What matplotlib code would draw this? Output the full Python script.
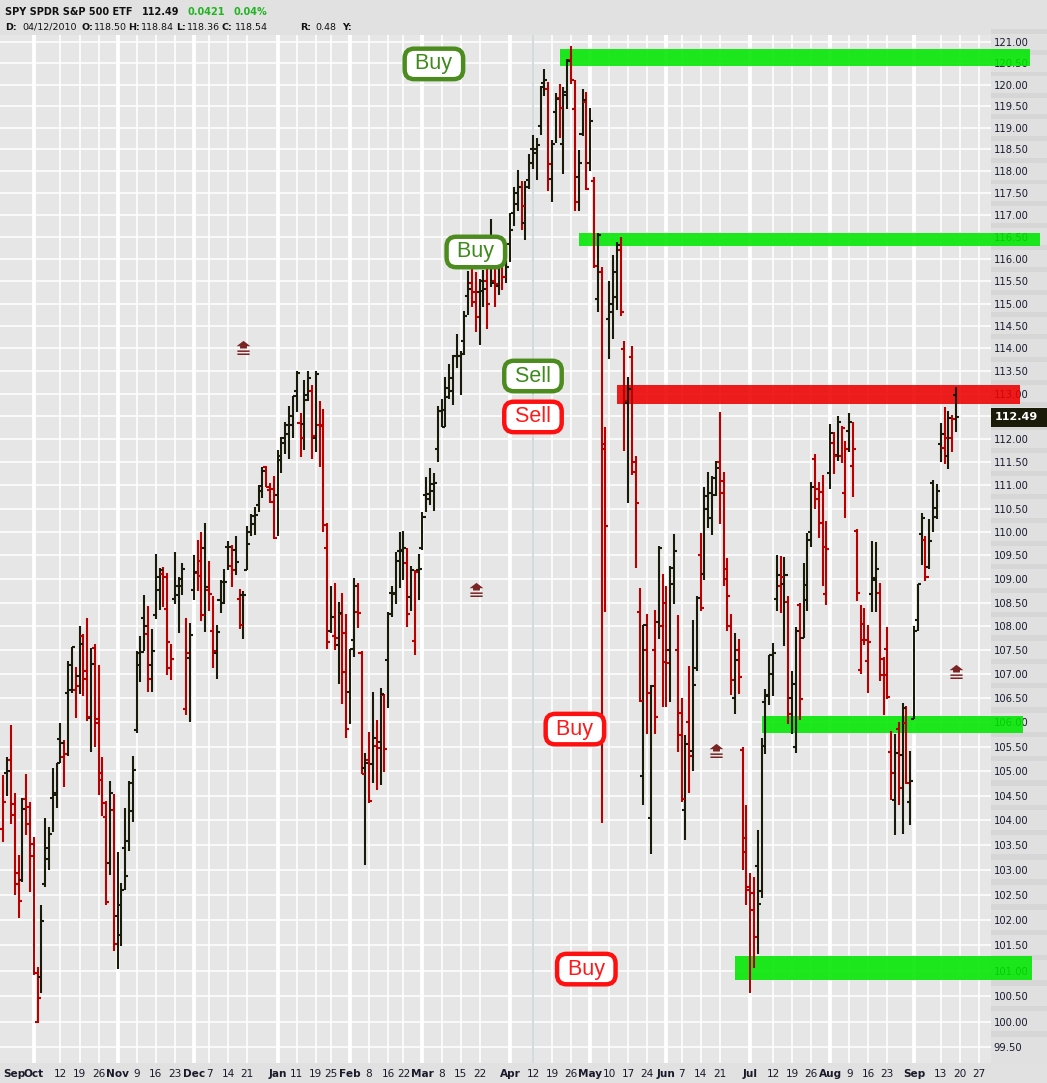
import numpy as np
import pandas as pd
import matplotlib
matplotlib.use('Agg')
import matplotlib.pyplot as plt
import matplotlib.transforms as mtransforms
from matplotlib.patches import Rectangle
from matplotlib.path import Path
from matplotlib.ticker import FixedLocator, NullLocator, NullFormatter, FuncFormatter

# trading calendar (NYSE holidays in the window)
holidays = ['2009-11-26', '2009-12-25', '2010-01-01', '2010-01-18', '2010-02-15',
            '2010-04-02', '2010-05-31', '2010-07-05', '2010-09-06']
dates = pd.bdate_range('2009-09-21', '2010-10-08', freq='C', holidays=holidays)

# daily OHLC (Sep 21 2009 .. Sep 17 2010)
opens = [103.82, 104.95, 105.23, 104.33, 102.71, 102.79, 104.42, 104.26, 103.27, 100.00,
         100.88, 102.71, 103.21, 104.45, 104.55, 105.66, 105.29, 106.60, 106.66, 106.67,
         106.95, 107.80, 106.90, 106.08, 107.55, 106.07, 104.95, 104.06, 103.13, 104.21,
         102.08, 101.70, 103.44, 103.58, 104.18, 105.85, 107.19, 108.17, 107.84, 107.19,
         108.24, 108.76, 109.10, 108.36, 107.12, 108.57, 108.85, 109.00, 106.28, 107.34,
         108.77, 109.12, 109.37, 109.66, 108.77, 107.89, 107.44, 108.55, 108.94, 109.68,
         109.27, 109.62, 108.57, 108.65, 109.19, 110.00, 110.35, 110.58, 110.98, 111.41,
         110.91, 110.93, 110.80, 111.55, 111.93, 112.31, 112.50, 113.06, 112.35, 112.33,
         112.87, 113.06, 112.04, 112.32, 112.32, 109.65, 107.89, 107.80, 107.61, 108.25,
         107.85, 106.63, 107.71, 108.30, 107.43, 105.06, 105.23, 105.14, 105.52, 105.59,
         106.56, 107.30, 108.71, 108.71, 109.59, 109.61, 109.33, 108.62, 107.69, 109.19,
         109.65, 110.80, 110.71, 110.87, 111.79, 112.63, 112.28, 113.13, 113.06, 113.83,
         113.83, 114.17, 115.18, 115.46, 115.04, 115.27, 115.51, 115.50, 116.00, 115.50,
         115.40, 115.90, 116.10, 116.33, 117.05, 117.25, 117.64, 116.81, 117.80, 118.50,
         118.42, 119.05, 120.05, 119.90, 117.83, 119.36, 119.70, 118.62, 119.76, 120.58,
         119.43, 117.87, 118.85, 119.60, 118.20, 117.78, 115.10, 115.70, 111.90, 114.66,
         114.80, 115.14, 116.20, 113.99, 112.80, 113.80, 111.50, 108.30, 104.90, 107.50,
         104.05, 107.50, 108.10, 108.00, 108.50, 107.50, 108.90, 107.50, 106.20, 104.20,
         106.00, 105.40, 107.12, 109.50, 109.10, 110.50, 110.30, 110.80, 111.50, 111.10,
         109.20, 108.00, 106.50, 107.50, 105.44, 103.35, 102.60, 102.54, 103.07, 102.57,
         106.41, 106.55, 107.00, 108.57, 108.86, 108.90, 108.51, 106.50, 105.50, 108.45,
         107.75, 108.55, 110.00, 111.57, 110.70, 110.85, 108.67, 111.27, 111.93, 111.66,
         111.64, 110.84, 112.18, 111.43, 110.03, 107.08, 107.72, 107.27, 108.69, 108.98,
         108.71, 106.99, 107.53, 105.39, 104.40, 105.86, 105.33, 105.99, 104.36, 106.07,
         108.13, 109.95, 109.83, 109.25, 111.05, 110.52, 111.89, 111.81, 111.64, 112.04,
         112.97]
highs = [104.91, 105.29, 105.94, 104.55, 103.29, 104.45, 104.93, 104.37, 103.67, 101.07,
         102.29, 104.04, 103.86, 105.06, 105.17, 105.98, 105.63, 107.28, 107.57, 107.14,
         108.00, 107.84, 108.17, 107.54, 107.62, 107.19, 105.29, 104.39, 104.79, 104.54,
         103.35, 102.74, 104.25, 104.79, 105.31, 107.49, 107.80, 108.65, 108.42, 107.95,
         109.52, 109.23, 109.25, 109.13, 107.62, 109.57, 109.04, 109.33, 108.17, 108.07,
         109.50, 109.83, 110.00, 110.19, 109.37, 108.64, 108.03, 108.97, 109.21, 109.81,
         109.72, 109.92, 108.78, 108.74, 110.13, 110.38, 110.53, 111.00, 111.39, 111.43,
         111.06, 111.20, 111.77, 112.06, 112.37, 112.73, 112.96, 113.49, 112.58, 113.30,
         113.50, 113.20, 113.49, 112.84, 112.66, 110.20, 108.84, 108.91, 108.52, 108.71,
         108.25, 107.52, 109.02, 108.91, 107.48, 105.37, 105.81, 106.63, 106.05, 106.71,
         106.58, 108.30, 108.84, 109.57, 110.01, 110.03, 109.65, 109.28, 109.18, 109.54,
         110.43, 111.18, 111.38, 111.27, 112.73, 112.89, 113.37, 113.65, 113.85, 114.31,
         113.94, 114.84, 115.73, 115.80, 115.71, 115.56, 115.75, 115.85, 116.90, 115.97,
         116.20, 116.20, 116.18, 117.04, 117.64, 118.03, 117.78, 117.78, 118.40, 118.84,
         118.77, 119.98, 120.37, 120.07, 118.73, 119.81, 120.01, 119.95, 120.60, 120.90,
         120.12, 118.49, 119.91, 119.83, 119.47, 117.86, 116.58, 115.82, 112.27, 115.50,
         116.10, 116.38, 116.50, 114.17, 113.37, 114.05, 111.63, 108.80, 108.03, 108.26,
         106.77, 108.35, 109.70, 109.10, 108.86, 109.27, 109.95, 108.23, 106.50, 105.74,
         107.16, 108.14, 108.63, 109.98, 110.97, 111.30, 111.21, 111.53, 112.59, 111.30,
         109.44, 108.25, 107.85, 107.74, 105.50, 104.30, 102.93, 102.86, 103.81, 105.68,
         106.68, 107.40, 107.65, 109.50, 109.49, 109.47, 108.63, 107.06, 107.98, 108.50,
         109.33, 109.97, 111.08, 111.68, 111.08, 111.23, 110.24, 112.33, 112.17, 112.50,
         112.30, 111.96, 112.58, 112.37, 110.07, 108.45, 108.39, 108.03, 109.80, 109.78,
         108.92, 107.36, 107.98, 105.82, 105.76, 106.01, 106.39, 106.33, 105.42, 108.01,
         108.90, 110.40, 109.91, 110.27, 111.11, 111.03, 112.36, 112.70, 112.63, 112.54,
         113.15]
lows = [103.56, 104.50, 103.93, 102.50, 102.03, 102.76, 103.70, 102.56, 100.92, 99.97,
        100.56, 102.65, 102.99, 103.76, 104.25, 105.17, 104.67, 105.31, 106.60, 106.09,
        106.58, 106.55, 106.03, 105.38, 105.50, 104.51, 104.08, 102.30, 102.89, 101.39,
        101.04, 101.49, 102.60, 103.38, 103.97, 105.77, 106.83, 107.48, 106.63, 106.63,
        108.15, 108.34, 108.40, 106.98, 106.87, 108.46, 107.86, 108.65, 106.16, 106.00,
        108.55, 108.74, 108.12, 107.88, 108.33, 107.13, 106.90, 108.28, 108.46, 109.19,
        108.82, 109.09, 107.94, 107.73, 109.19, 109.92, 109.94, 110.43, 110.72, 110.96,
        110.62, 109.85, 109.92, 111.28, 111.69, 111.57, 112.04, 112.60, 111.61, 111.76,
        112.83, 111.58, 111.72, 111.39, 110.00, 107.52, 107.85, 107.50, 106.79, 106.38,
        105.68, 105.97, 107.36, 107.96, 104.93, 103.09, 104.35, 104.76, 104.61, 104.72,
        104.99, 106.29, 108.20, 108.46, 108.80, 108.97, 107.98, 108.32, 107.40, 108.55,
        109.62, 110.43, 110.57, 110.45, 111.50, 112.28, 112.28, 112.89, 112.75, 113.57,
        112.98, 113.86, 114.74, 114.92, 114.36, 114.07, 114.92, 114.43, 115.37, 114.93,
        115.20, 115.30, 115.45, 115.94, 116.74, 117.10, 116.65, 116.44, 117.60, 118.06,
        117.80, 118.83, 119.74, 117.54, 117.30, 118.66, 118.77, 117.93, 119.43, 120.01,
        117.08, 117.10, 118.82, 117.58, 118.00, 115.80, 114.80, 103.94, 108.30, 113.77,
        114.20, 114.86, 114.73, 111.74, 110.63, 111.23, 109.24, 106.41, 104.30, 105.76,
        103.32, 105.76, 107.73, 106.31, 106.31, 106.41, 108.46, 105.39, 104.36, 103.60,
        104.55, 105.00, 107.06, 108.33, 108.97, 110.08, 109.94, 110.77, 110.17, 108.85,
        107.90, 106.56, 106.18, 106.59, 103.00, 102.30, 100.56, 101.05, 101.32, 102.44,
        105.34, 106.35, 106.55, 108.33, 108.28, 107.58, 105.97, 105.76, 105.37, 106.05,
        107.75, 108.33, 109.67, 110.50, 109.87, 108.85, 108.44, 110.93, 111.25, 111.53,
        111.48, 110.31, 111.72, 110.75, 108.53, 107.00, 107.60, 106.60, 108.29, 108.30,
        106.85, 106.16, 106.49, 104.40, 103.71, 104.30, 103.73, 104.74, 103.90, 106.07,
        107.89, 109.30, 108.96, 109.21, 110.00, 110.27, 111.51, 111.47, 111.36, 111.73,
        112.17]
closes = [104.37, 105.00, 104.11, 102.94, 102.38, 104.22, 103.93, 103.52, 100.96, 100.47,
          101.97, 103.44, 103.72, 104.51, 105.17, 105.57, 105.35, 107.19, 107.57, 106.76,
          107.63, 107.07, 106.11, 107.20, 105.98, 104.82, 104.35, 102.36, 104.55, 101.53,
          102.29, 102.60, 102.88, 104.76, 105.02, 107.43, 107.46, 108.00, 106.90, 107.49,
          109.04, 109.18, 109.05, 107.68, 107.31, 108.65, 108.85, 109.21, 107.43, 107.81,
          109.15, 109.07, 108.24, 108.82, 108.68, 107.48, 107.87, 108.48, 108.94, 109.68,
          109.18, 109.35, 108.03, 108.65, 109.74, 110.17, 110.36, 110.89, 111.32, 110.96,
          110.64, 109.88, 111.64, 112.02, 112.12, 112.32, 112.95, 113.45, 112.04, 112.98,
          113.35, 112.07, 113.43, 112.30, 110.15, 107.66, 108.20, 107.75, 108.27, 107.05,
          105.86, 107.52, 108.85, 108.27, 104.93, 105.17, 104.39, 105.67, 105.48, 106.58,
          105.46, 108.25, 108.69, 109.37, 109.60, 109.65, 108.25, 109.18, 109.15, 109.20,
          110.32, 110.81, 111.04, 111.06, 112.63, 112.65, 112.93, 113.35, 113.83, 113.84,
          113.88, 114.72, 115.32, 115.27, 114.69, 115.28, 115.32, 115.00, 115.45, 115.43,
          116.00, 115.60, 115.82, 116.65, 117.50, 117.64, 117.20, 117.64, 118.20, 118.52,
          118.60, 119.95, 120.12, 118.17, 118.62, 119.66, 119.45, 119.83, 120.57, 120.12,
          117.30, 118.19, 119.65, 117.60, 119.15, 115.85, 116.54, 111.80, 110.13, 115.00,
          115.70, 116.31, 114.82, 112.84, 113.10, 111.30, 110.63, 106.44, 108.03, 106.60,
          106.75, 106.10, 109.66, 107.26, 107.24, 109.24, 109.60, 105.74, 104.42, 105.55,
          105.30, 106.78, 108.60, 108.38, 110.78, 110.84, 111.17, 111.37, 110.84, 109.00,
          108.63, 106.88, 107.30, 106.94, 103.64, 102.66, 102.20, 101.66, 102.31, 105.52,
          106.57, 107.40, 107.44, 109.08, 109.05, 109.09, 106.18, 106.80, 107.90, 106.49,
          108.88, 109.82, 110.96, 110.93, 110.20, 109.67, 109.64, 112.15, 111.63, 112.37,
          112.24, 111.79, 112.39, 111.79, 108.71, 108.04, 107.72, 107.67, 109.01, 109.20,
          107.31, 106.98, 106.53, 104.95, 105.37, 104.66, 106.29, 104.76, 104.80, 107.89,
          108.89, 110.29, 109.05, 109.80, 110.32, 110.87, 112.11, 112.04, 112.47, 112.45,
          112.49]
prior_close = 104.60   # close before the first visible bar

# support / resistance bands: (start date, low, high, colour)
band_starts = ['2010-04-21', '2010-04-28', '2010-05-12', '2010-07-07', '2010-06-25']
band_lows = [120.45, 116.30, 112.78, 105.77, 100.82]
band_highs = [120.85, 116.60, 113.20, 106.13, 101.28]
band_ends = [269.5, 272.0, 266.9, 267.6, 270.0]   # bar index where each band stops
band_colors = ['#00e600', '#00e600', '#ee0000', '#00e600', '#00e600']

# signal boxes
sig_text = ['Buy', 'Buy', 'Sell', 'Sell', 'Buy', 'Buy']
sig_dates = ['2010-03-04', '2010-03-19', '2010-04-12', '2010-04-12', '2010-04-27', '2010-04-30']
sig_prices = [120.49, 116.16, 113.39, 112.49, 105.86, 101.03]
sig_kind = ['green', 'green', 'green', 'red', 'red', 'red']

# dividend markers
div_dates = ['2009-12-18', '2010-03-19', '2010-06-18', '2010-09-17']
div_prices = [114.00, 108.77, 105.42, 107.05]

# x-axis labels
tick_dates = ['2009-09-21', '2009-10-01', '2009-10-12', '2009-10-19', '2009-10-26',
              '2009-11-02', '2009-11-09', '2009-11-16', '2009-11-23', '2009-12-01',
              '2009-12-07', '2009-12-14', '2009-12-21', '2010-01-04', '2010-01-11',
              '2010-01-19', '2010-01-25', '2010-02-01', '2010-02-08', '2010-02-16',
              '2010-02-22', '2010-03-01', '2010-03-08', '2010-03-15', '2010-03-22',
              '2010-04-01', '2010-04-12', '2010-04-19', '2010-04-26', '2010-05-03',
              '2010-05-10', '2010-05-17', '2010-05-24', '2010-06-01', '2010-06-07',
              '2010-06-14', '2010-06-21', '2010-07-01', '2010-07-12', '2010-07-19',
              '2010-07-26', '2010-08-02', '2010-08-09', '2010-08-16', '2010-08-23',
              '2010-09-01', '2010-09-13', '2010-09-20', '2010-09-27']
cursor_date = '2010-04-12'
last_price = 112.49

header1 = [('SPY SPDR S&P 500 ETF', 5, 'bold', '#111111'), ('112.49', 142, 'bold', '#111111'),
           ('0.0421', 187, 'bold', '#22b422'), ('0.04%', 233, 'bold', '#22b422')]
header2 = [('D:', 5, 'bold'), ('04/12/2010', 22, 'normal'), ('O:', 82, 'bold'), ('118.50', 94, 'normal'),
           ('H:', 128, 'bold'), ('118.84', 141, 'normal'), ('L:', 176, 'bold'), ('118.36', 187, 'normal'),
           ('C:', 222, 'bold'), ('118.54', 235, 'normal'), ('R:', 300, 'bold'), ('0.48', 315, 'normal'),
           ('Y:', 342, 'bold')]

W, H = 1047, 1083
pos = {d: i for i, d in enumerate(dates)}
def ix(d):
  return pos[pd.Timestamp(d)]

fig = plt.figure(figsize=(W / 100, H / 100), dpi=100)
fig.patch.set_facecolor('#e1e1e1')
ax = fig.add_axes([0, 20 / H, 991 / W, 1028 / H])
ax.set_facecolor('#e6e6e6')
for s in ax.spines.values():
  s.set_visible(False)

# right price panel
fig.add_artist(Rectangle((991 / W, 20 / H), 1 - 991 / W, 1028 / H, transform=fig.transFigure,
                         fc='#e0e0e0', ec='none', zorder=-1))

ax.set_yscale('log')
ax.set_ylim(99.2, 121.17)
ax.set_xlim(-0.87, 259.2)
tr = mtransforms.blended_transform_factory(ax.transAxes, ax.transData)

levels = np.arange(99.5, 121.01, 0.5)
for lv in levels:
  ax.axhline(lv, color='white', lw=1.1, zorder=0.5)
  # faint stripe in the price panel between labels
  ax.add_patch(Rectangle((1.0, lv + 0.2), 0.06, 0.11, transform=tr, fc='#d6d6d6',
                         ec='none', clip_on=False, zorder=0.2))

tick_pos = [ix(d) for d in tick_dates]
tick_lab = []
for k, d in enumerate(tick_dates):
  t = pd.Timestamp(d)
  first = k == 0 or tick_dates[k - 1][:7] != d[:7]
  tick_lab.append(t.strftime('%b') if first else str(t.day))
  if k == 0:
    continue
  ax.axvline(tick_pos[k], color='white', lw=2.8 if first else 1.2, zorder=0.5)
ax.axvline(ix(cursor_date), color='#c6d3d8', lw=1.1, zorder=0.6)

ax.set_xticks(tick_pos)
ax.set_xticklabels(tick_lab)
for k, lab in enumerate(ax.get_xticklabels()):
  if not tick_lab[k].isdigit():
    lab.set_fontweight('bold')
ax.get_xticklabels()[0].set_ha('left')
ax.tick_params(axis='x', length=0, pad=4, labelsize=7.6, labelcolor='#1a1a2a')

# the 112.50 label sits under the last-price tag, so it is left blank
ax.yaxis.set_major_locator(FixedLocator(levels))
ax.yaxis.set_major_formatter(FuncFormatter(
    lambda v, p: '' if abs(v - last_price) < 0.25 else f'{v:.2f}'))
ax.yaxis.set_minor_locator(NullLocator())
ax.yaxis.set_minor_formatter(NullFormatter())
ax.yaxis.tick_right()
ax.tick_params(axis='y', length=0, pad=2, labelsize=7.2, labelcolor='#1a1a30')

# bands
for d0, lo, hi, x1, c in zip(band_starts, band_lows, band_highs, band_ends, band_colors):
  x0 = ix(d0)
  ax.add_patch(Rectangle((x0, lo), x1 - x0, hi - lo, fc=c, ec='none', alpha=0.88,
                         clip_on=False, zorder=2))

# OHLC bars
idx = np.arange(len(closes))
prev = np.r_[prior_close, closes[:-1]]
cols = np.where(np.array(closes) >= prev, '#1a1a0a', '#b80000')
ax.vlines(idx, lows, highs, colors=cols, lw=1.5, zorder=4)
ax.hlines(opens, idx - 0.8, idx, colors=cols, lw=1.5, zorder=4)
ax.hlines(closes, idx, idx + 0.8, colors=cols, lw=1.5, zorder=4)

# dividend markers
verts = [(0, 1.0), (-0.9, 0.3), (-0.45, 0.3), (-0.45, 0.0), (0.45, 0.0), (0.45, 0.3), (0.9, 0.3), (0, 1.0),
         (-0.8, -0.25), (0.8, -0.25), (0.8, -0.45), (-0.8, -0.45), (-0.8, -0.25),
         (-0.8, -0.65), (0.8, -0.65), (0.8, -0.85), (-0.8, -0.85), (-0.8, -0.65)]
codes = [Path.MOVETO] + [Path.LINETO] * 6 + [Path.CLOSEPOLY] + \
        ([Path.MOVETO] + [Path.LINETO] * 3 + [Path.CLOSEPOLY]) * 2
div_marker = Path(verts, codes)
ax.plot([ix(d) for d in div_dates], div_prices, ls='none', marker=div_marker,
        markersize=11, color='#7a2424', mec='none', zorder=5)

# signal boxes
for txt, d, p, kind in zip(sig_text, sig_dates, sig_prices, sig_kind):
  tc, ec = ('#3f8a1c', '#4c8c1e') if kind == 'green' else ('#ff1a1a', '#ff1010')
  ax.text(ix(d), p, ' ' + txt + ' ', ha='center', va='center', fontsize=15.5,
          family='Liberation Sans', color=tc, zorder=7,
          bbox=dict(boxstyle='round,pad=0.22,rounding_size=0.45', fc='white', ec=ec, lw=3.2))

# last price tag
ax.add_patch(Rectangle((1.0, 112.27), 0.06, 0.42, transform=tr, fc='#1a1a08', ec='none',
                       clip_on=False, zorder=6))
ax.text(1.004, last_price, f'{last_price:.2f}', transform=tr, ha='left', va='center',
        fontsize=8, fontweight='bold', color='white', zorder=7)

# header
for txt, x, w, c in header1:
  fig.text(x / W, 1 - 12 / H, txt, fontsize=7.0, fontweight=w, color=c, va='center')
for txt, x, w in header2:
  fig.text(x / W, 1 - 27 / H, txt, fontsize=6.8, fontweight=w, color='#111111', va='center')

fig.savefig('out.png', dpi=100, facecolor=fig.get_facecolor())
